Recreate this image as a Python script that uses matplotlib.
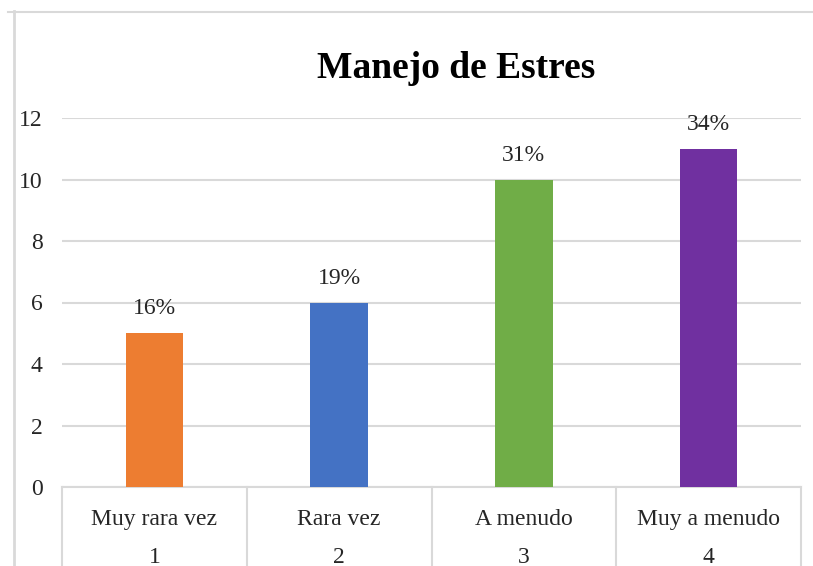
import matplotlib
matplotlib.use("Agg")
import matplotlib.pyplot as plt
from matplotlib.lines import Line2D
import matplotlib.transforms as mtransforms

categorias = ["Muy rara vez", "Rara vez", "A menudo", "Muy a menudo"]
codigos = ["1", "2", "3", "4"]
valores = [5, 6, 10, 11]
porcentajes = ["16%", "19%", "31%", "34%"]
colores = ["#ED7D31", "#4472C4", "#70AD47", "#7030A0"]

plt.rcParams['font.family'] = ['Liberation Serif', 'DejaVu Serif']
gris = "#D9D9D9"

W, H = 813, 566
fig = plt.figure(figsize=(W / 100, H / 100), dpi=100)
ax = fig.add_axes([62 / W, (H - 487) / H, (801 - 62) / W, 369 / H])

x = list(range(len(categorias)))
ax.bar(x, valores, width=0.31, color=colores, zorder=3)
for xi, v, p in zip(x, valores, porcentajes):
    ax.annotate(p, (xi, v), xytext=(0, 10), textcoords="offset points",
                ha="center", va="bottom", fontsize=17, color="#262626")

ax.set_xlim(-0.5, 3.5)
ax.set_ylim(0, 12)
ax.set_yticks(range(0, 13, 2))
ax.tick_params(axis="y", length=0, pad=14, labelsize=17, labelcolor="#262626")
ax.set_xticks([])
ax.grid(axis="y", color=gris, lw=1.5, zorder=0)
for s in ["top", "right", "left"]:
    ax.spines[s].set_visible(False)
ax.spines["bottom"].set_color(gris)
ax.spines["bottom"].set_linewidth(1.5)

# multi-level category axis
trans = mtransforms.blended_transform_factory(ax.transData, ax.transAxes)
for sep in [-0.5, 0.5, 1.5, 2.5, 3.5]:
    ax.add_line(Line2D([sep, sep], [0, -0.3], transform=trans, color=gris,
                       lw=1.5, clip_on=False))
for xi, cat, cod in zip(x, categorias, codigos):
    ax.text(xi, -0.087, cat, transform=trans, ha="center", va="center",
            fontsize=17, color="#262626")
    ax.text(xi, -0.19, cod, transform=trans, ha="center", va="center",
            fontsize=17, color="#262626")

fig.text(456 / W, 1 - 68 / H, "Manejo de Estres", ha="center", va="center",
         fontsize=27, fontweight="bold")

# chart area border
fig.add_artist(Line2D([8 / W, 1], [1 - 12 / H, 1 - 12 / H], color=gris, lw=1.5))
fig.add_artist(Line2D([13.5 / W, 13.5 / W], [1 - 11 / H, 0], color=gris, lw=2))

fig.savefig("out.png", dpi=100)
